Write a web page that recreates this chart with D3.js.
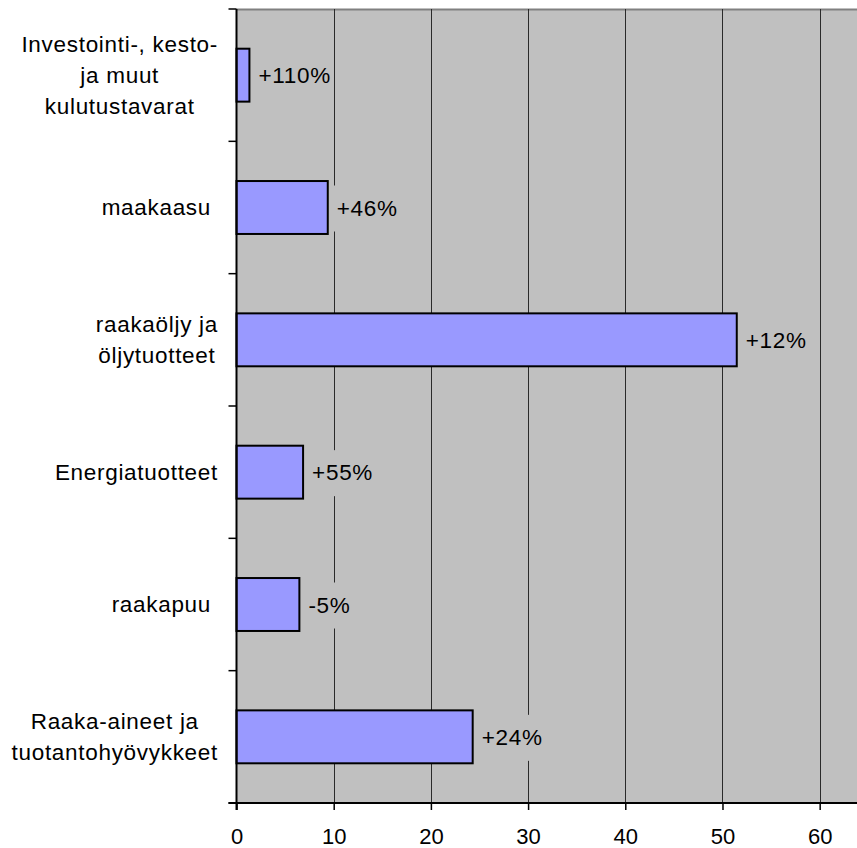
<!DOCTYPE html>
<html><head><meta charset="utf-8">
<script src="https://cdn.jsdelivr.net/npm/d3@7"></script>
<style>
html,body{margin:0;padding:0;background:#fff;}
svg{display:block;}
text{font-family:"Liberation Sans",Arial,sans-serif;fill:#000;}
</style></head><body>
<svg id="chart" width="857" height="848"></svg>
<script>
const categories = [
  "Investointi-, kesto-\nja muut\nkulutustavarat",
  "maakaasu ",
  "raakaöljy ja\nöljytuotteet",
  "Energiatuotteet",
  "raakapuu ",
  "Raaka-aineet ja\ntuotantohyövykkeet"
];
const values = [1.33, 9.39, 51.47, 6.85, 6.47, 24.3];
const changeLabels = ["+110%", "+46%", "+12%", "+55%", "-5%", "+24%"];
const xTicks = [0, 10, 20, 30, 40, 50, 60];
const xMax = 63.84;

const svg = d3.select("#chart");
const L = 236.5, R = 857, T = 9, B = 803;
const FS = 22.5, LS = "0.7px";

const x = d3.scaleLinear().domain([0, xMax]).range([L, R]);
const y = d3.scaleBand().domain(categories).range([T, B]).paddingInner(0.6).paddingOuter(0.3);
const band = d3.scaleBand().domain(categories).range([T, B]).padding(0);

svg.append("rect").attr("x", L).attr("y", T).attr("width", R - L).attr("height", B - T).attr("fill", "#C0C0C0");

svg.append("line").attr("x1", L).attr("x2", R).attr("y1", T + 0.5).attr("y2", T + 0.5)
  .attr("stroke", "#808080").attr("stroke-width", 2);

svg.append("g").selectAll("line").data(xTicks.filter(d => d > 0)).join("line")
  .attr("x1", d => Math.round(x(d)) + 0.5).attr("x2", d => Math.round(x(d)) + 0.5)
  .attr("y1", T).attr("y2", B)
  .attr("stroke", "#2a2a2a").attr("stroke-width", 1);

svg.append("g").selectAll("rect").data(values).join("rect")
  .attr("x", x(0))
  .attr("y", (d, i) => y(categories[i]))
  .attr("width", d => x(d) - x(0))
  .attr("height", y.bandwidth())
  .attr("fill", "#9999FF")
  .attr("stroke", "#000").attr("stroke-width", 2);

const lg = svg.append("g");
changeLabels.forEach((lab, i) => {
  const cy = band(categories[i]) + band.bandwidth() / 2;
  const tx = x(values[i]) + 9;
  const g = lg.append("g");
  const bg = g.append("rect").attr("fill", "#C0C0C0");
  const t = g.append("text").attr("x", tx).attr("y", cy + 8)
    .attr("font-size", FS).attr("letter-spacing", LS).text(lab);
  const w = t.node().getComputedTextLength();
  bg.attr("x", tx - 3).attr("y", cy - 22).attr("width", w + 4).attr("height", 46);
});

const xAxis = d3.axisBottom(x).tickValues(xTicks).tickSize(7).tickPadding(18).tickSizeOuter(0);
const gx = svg.append("g").attr("transform", `translate(0,${B})`).call(xAxis);
gx.select(".domain").attr("stroke", "#000").attr("stroke-width", 2).attr("d", `M${L - 8},0H${R}`);
gx.selectAll(".tick line").attr("stroke", "#000").attr("stroke-width", 1.5);
gx.selectAll(".tick text").attr("font-size", 22).attr("font-family", "Liberation Sans, Arial, sans-serif").attr("fill", "#000")
  .attr("dy", "0.71em");

svg.append("line").attr("x1", L).attr("x2", L).attr("y1", T).attr("y2", B + 7)
  .attr("stroke", "#000").attr("stroke-width", 2);
const bounds = categories.map(c => band(c)).concat([B]);
svg.append("g").selectAll("line").data(bounds).join("line")
  .attr("x1", L - 8).attr("x2", L).attr("y1", d => d).attr("y2", d => d)
  .attr("stroke", "#000").attr("stroke-width", 1.5);

const cg = svg.append("g");
const rightEdge = 218, lh = 31;
categories.forEach((c, i) => {
  const lines = c.split("\n");
  const cy = band(c) + band.bandwidth() / 2;
  const g = cg.append("g");
  const ts = lines.map((ln, j) => g.append("text")
    .attr("xml:space", "preserve").style("white-space", "pre")
    .attr("font-size", FS).attr("letter-spacing", LS)
    .attr("text-anchor", "middle")
    .attr("y", cy + 7.5 + (j - (lines.length - 1) / 2) * lh)
    .text(ln));
  const bw = d3.max(ts, t => t.node().getComputedTextLength());
  ts.forEach(t => t.attr("x", rightEdge - bw / 2));
});
</script>
</body></html>
